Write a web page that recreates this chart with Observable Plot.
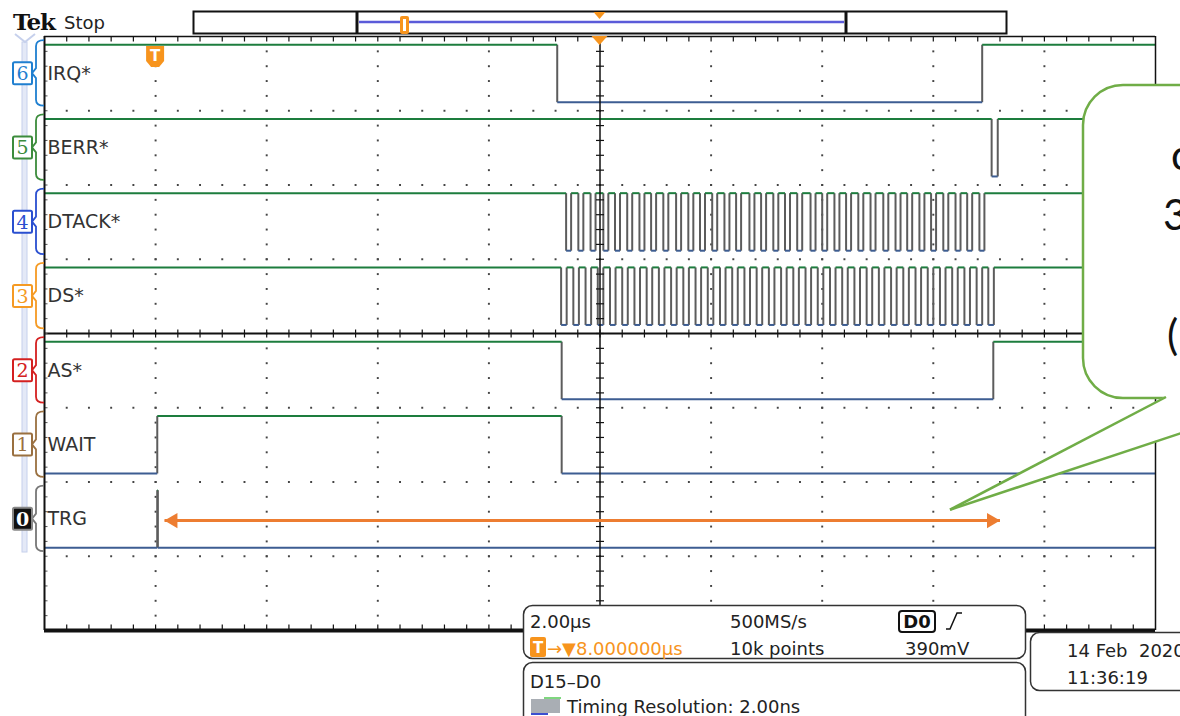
<!DOCTYPE html>
<html><head><meta charset="utf-8">
<script src="https://cdn.jsdelivr.net/npm/d3@7"></script>
<script src="https://cdn.jsdelivr.net/npm/@observablehq/plot@0.6"></script>
<style>
html,body{margin:0;padding:0;background:#fff;overflow:hidden;width:1180px;height:716px}
#wrap{position:relative;width:1180px;height:716px;overflow:hidden}
#wrap svg{position:absolute;left:0;top:0}
</style></head><body><div id="wrap"></div>
<script>
// ---- data (time in µs relative to trigger, 2 µs/div) ----
const channels   = ["IRQ*", "BERR*", "DTACK*", "DS*", "AS*", "WAIT", "TRG"];
const channelNum = ["6", "5", "4", "3", "2", "1", "0"];
const channelCol = ["#1f7fd0", "#3c8c3c", "#2a4fd0", "#f59a23", "#d42020", "#9a7040", "#111"];
const startHigh  = [true, true, true, true, true, false, false];
const irqEdges   = [7.23, 14.88];
const berrEdges  = [15.05, 15.16];
const dtackLow   = [[7.39,7.48],[7.61,7.70],[7.83,7.92],[8.06,8.15],[8.27,8.36],[8.49,8.58],[8.71,8.80],[8.92,9.01],[9.14,9.23],[9.37,9.46],[9.59,9.68],[9.80,9.89],[10.02,10.11],[10.24,10.33],[10.45,10.54],[10.69,10.78],[10.90,10.99],[11.12,11.21],[11.33,11.42],[11.55,11.64],[11.79,11.88],[12.00,12.09],[12.22,12.31],[12.43,12.52],[12.65,12.74],[12.87,12.96],[13.10,13.19],[13.32,13.41],[13.53,13.62],[13.75,13.84],[13.96,14.05],[14.18,14.27],[14.40,14.49],[14.61,14.70],[14.83,14.92]];
const dsLow      = [[7.30,7.40],[7.52,7.62],[7.74,7.84],[7.96,8.06],[8.18,8.28],[8.40,8.50],[8.62,8.72],[8.84,8.94],[9.06,9.16],[9.28,9.38],[9.50,9.60],[9.72,9.82],[9.94,10.04],[10.16,10.26],[10.38,10.48],[10.60,10.70],[10.82,10.92],[11.04,11.14],[11.26,11.36],[11.48,11.58],[11.70,11.80],[11.92,12.02],[12.14,12.24],[12.36,12.46],[12.58,12.68],[12.80,12.90],[13.02,13.12],[13.24,13.34],[13.46,13.56],[13.68,13.78],[13.90,14.00],[14.12,14.22],[14.34,14.44],[14.56,14.66],[14.78,14.88],[14.99,15.09]];
const asEdges    = [7.31, 15.08];
const waitEdges  = [0.03, 7.31];
const trgEdges   = [0.03, 0.04];
const trgArrow   = {t1: 0.16, t2: 15.2, y: 1.48};
const calloutTip = {t: 14.31, y: 1.62};
const infoRow1   = ["2.00µs", "500MS/s", "D0"];
const infoRow2   = ["8.000000µs", "10k points", "390mV"];
const infoBox2   = ["D15–D0", "Timing Resolution: 2.00ns"];
const dateText   = ["14 Feb\u00A0\u00A02020", "11:36:19"];
const calloutLines = ["ca. 15 µs", "35 Buszyklen", "", "( Block-Transfer )"];

const allEdges = [irqEdges, berrEdges, dtackLow.flat(), dsLow.flat(), asEdges, waitEdges, trgEdges];

// ---- build segments ----
const H = [], V = [];
allEdges.forEach((edges, row) => {
  const hi = 8 - row - 0.11, lo = 8 - row - 0.885;
  let level = startHigh[row], prev = -2;
  for (const e of edges) {
    H.push({x1: prev, x2: e, y: level ? hi : lo, high: level});
    V.push({x: e, y1: lo, y2: hi});
    level = !level; prev = e;
  }
  H.push({x1: prev, x2: 18, y: level ? hi : lo, high: level});
});

// graticule helpers
const gridV = [], gridH = [], centerHT = [], centerVT = [], topT = [], botT = [], leftT = [];
for (let i = 1; i < 10; i++) { if (i === 5) continue; for (let k = 1; k < 40; k++) gridV.push({x: -2 + 2 * i, y: k * 0.2}); }
for (const j of [1, 2, 3, 5, 6, 7]) for (let m = 1; m < 50; m++) gridH.push({x: -2 + m * 0.4, y: j});
for (let k = 1; k < 40; k++) { centerHT.push({x: 8, y: k * 0.2}); leftT.push({x: -2, y: k * 0.2}); }
for (let m = 1; m < 50; m++) { centerVT.push({x: -2 + m * 0.4, y: 4}); topT.push({x: -2 + m * 0.4, y: 8}); botT.push({x: -2 + m * 0.4, y: 0}); }
const sym = (x1, y1, x2, y2) => ({draw(c) { c.moveTo(x1, y1); c.lineTo(x2, y2); }});

const chart = Plot.plot({
  width: 1180, height: 716,
  marginLeft: 44, marginRight: 25, marginTop: 36, marginBottom: 86,
  x: {domain: [-2, 18], axis: null},
  y: {domain: [0, 8], axis: null},
  style: {background: "transparent", overflow: "visible"},
  marks: [
    Plot.dot(gridV, {x: "x", y: "y", symbol: "square", r: 1.1, fill: "#444", stroke: null}),
    Plot.dot(gridH, {x: "x", y: "y", symbol: "square", r: 1.1, fill: "#444", stroke: null}),
    Plot.link(V, {x1: "x", x2: "x", y1: "y1", y2: "y2", stroke: "#5c5c5c", strokeWidth: 2}),
    Plot.link(H, {x1: "x1", x2: "x2", y1: "y", y2: "y", stroke: d => d.high ? "#1d7d3e" : "#3d5d92", strokeWidth: 2}),
    Plot.ruleX([8], {stroke: "#111", strokeWidth: 1.5}),
    Plot.ruleY([4], {stroke: "#111", strokeWidth: 2}),
    Plot.dot(centerHT, {x: "x", y: "y", symbol: sym(-4, 0, 4, 0), r: 3, stroke: "#111", strokeWidth: 1.2, fill: "none"}),
    Plot.dot(centerVT, {x: "x", y: "y", symbol: sym(0, -4, 0, 4), r: 3, stroke: "#111", strokeWidth: 1.2, fill: "none"}),
    Plot.dot(topT, {x: "x", y: "y", symbol: sym(0, 0, 0, 5), r: 3, stroke: "#111", strokeWidth: 1.2, fill: "none"}),
    Plot.dot(botT, {x: "x", y: "y", symbol: sym(0, 0, 0, -6), r: 3, stroke: "#111", strokeWidth: 1.2, fill: "none"}),
    Plot.dot(leftT, {x: "x", y: "y", symbol: sym(0, 0, 3, 0), r: 3, stroke: "#555", strokeWidth: 1, fill: "none"}),
    Plot.ruleX([-2], {stroke: "#111", strokeWidth: 2}),
    Plot.ruleX([18], {stroke: "#111", strokeWidth: 1.5}),
    Plot.ruleY([8], {stroke: "#111", strokeWidth: 1.5}),
    Plot.ruleY([0], {stroke: "#111", strokeWidth: 4}),
    Plot.text(channels, {x: () => -2, y: (d, i) => 8 - i - 0.5, text: d => d, textAnchor: "start", dx: 3, fontSize: 19, fontFamily: "DejaVu Sans", fill: "#333"}),
    Plot.link([trgArrow], {x1: "t1", x2: "t2", y1: "y", y2: "y", stroke: "#ed7d31", strokeWidth: 3}),
    Plot.dot([trgArrow], {x: "t1", y: "y", symbol: "triangle", r: 5.6, rotate: -90, dx: 8.6, fill: "#ed7d31", stroke: null}),
    Plot.dot([trgArrow], {x: "t2", y: "y", symbol: "triangle", r: 5.6, rotate: 90, dx: -8.6, fill: "#ed7d31", stroke: null})
  ]
});
document.getElementById("wrap").append(chart);

// ---- overlay annotations ----
const sx = chart.scale("x"), sy = chart.scale("y");
const X = v => sx.apply(v), Y = v => sy.apply(v);
const ov = d3.create("svg").attr("width", 1180).attr("height", 716).attr("viewBox", "0 0 1180 716")
  .style("font-family", "'DejaVu Sans', sans-serif");
const orange = "#f7941d";

// Tek Stop
ov.append("text").attr("x", 13).attr("y", 30).attr("font-family", "'DejaVu Serif', serif").attr("font-weight", "bold").attr("font-size", 23).attr("letter-spacing", -1).attr("fill", "#111").text("Tek");
ov.append("text").attr("x", 64).attr("y", 29).attr("font-size", 18).attr("fill", "#222").text("Stop");

// top record bar
ov.append("rect").attr("x", 193.5).attr("y", 11.5).attr("width", 813).attr("height", 22).attr("fill", "#fff").attr("stroke", "#111").attr("stroke-width", 2);
ov.append("line").attr("x1", 359).attr("x2", 844).attr("y1", 22).attr("y2", 22).attr("stroke", "#5b5bd9").attr("stroke-width", 2.5);
for (const bx of [357, 846]) ov.append("line").attr("x1", bx).attr("x2", bx).attr("y1", 12).attr("y2", 34).attr("stroke", "#111").attr("stroke-width", 3);
ov.append("rect").attr("x", 400).attr("y", 16).attr("width", 9).attr("height", 18).attr("rx", 2).attr("fill", orange);
ov.append("rect").attr("x", 403).attr("y", 19).attr("width", 3).attr("height", 12).attr("fill", "#fff");
ov.append("polygon").attr("points", `${X(8) - 6},12 ${X(8) + 6},12 ${X(8)},19`).attr("fill", orange);
// trigger position triangle on graticule
ov.append("polygon").attr("points", `${X(8) - 8},36 ${X(8) + 8},36 ${X(8)},45`).attr("fill", orange);
// trigger T marker
const tx = X(0);
ov.append("path").attr("d", `M${tx - 9},46 h18 v15 l-5,6 h-8 l-5,-6 Z`).attr("fill", orange);
ov.append("text").attr("x", tx).attr("y", 61).attr("text-anchor", "middle").attr("font-weight", "bold").attr("font-size", 15).attr("fill", "#fff").text("T");

// left channel rail
ov.append("rect").attr("x", 22).attr("y", 42).attr("width", 5).attr("height", 510).attr("fill", "#e4e9f7").attr("stroke", "#c6d0ec");
ov.append("path").attr("d", "M15,34 L25,42 L35,34").attr("fill", "none").attr("stroke", "#c6d0ec").attr("stroke-width", 2);
channels.forEach((c, i) => {
  const top = Y(8 - i - 0.11) - 4, bot = Y(8 - i - 0.885) + 4, mid = Y(8 - i - 0.5);
  const col = channelCol[i];
  ov.append("path").attr("d", `M44,${top} Q36,${top} 36,${top + 6} L36,${mid - 5} L32,${mid} L36,${mid + 5} L36,${bot - 6} Q36,${bot} 44,${bot}`)
    .attr("fill", "none").attr("stroke", i === 6 ? "#777" : col).attr("stroke-width", 1.8);
  ov.append("rect").attr("x", 13).attr("y", mid - 11).attr("width", 19).attr("height", 22).attr("rx", 1.5)
    .attr("fill", i === 6 ? "#111" : "#fff").attr("stroke", i === 6 ? "#888" : col).attr("stroke-width", 2);
  ov.append("text").attr("x", 22.5).attr("y", mid + 7).attr("text-anchor", "middle").attr("font-family", "'DejaVu Serif', serif")
    .attr("font-size", 19).attr("font-weight", i === 6 ? "bold" : "normal").attr("fill", i === 6 ? "#fff" : col).text(channelNum[i]);
});

// callout
const tipX = X(calloutTip.t), tipY = Y(calloutTip.y);
const green = "#70ad47";
ov.append("rect").attr("x", 1083).attr("y", 85).attr("width", 400).attr("height", 313).attr("rx", 40).attr("fill", "#fff").attr("stroke", green).attr("stroke-width", 2.5);
ov.append("polygon").attr("points", `1166,396 ${tipX},${tipY} 1290,396`).attr("fill", "#fff");
ov.append("line").attr("x1", 1166).attr("y1", 397).attr("x2", tipX).attr("y2", tipY).attr("stroke", green).attr("stroke-width", 2.5);
ov.append("line").attr("x1", 1290).attr("y1", 397).attr("x2", tipX).attr("y2", tipY).attr("stroke", green).attr("stroke-width", 2.5);
const cl = [[1171, 170], [1163, 230], [1165, 290], [1167, 350]];
calloutLines.forEach((t, i) => {
  ov.append("text").attr("x", cl[i][0]).attr("y", cl[i][1]).attr("font-family", "Lato, 'Open Sans', sans-serif").attr("font-size", 42).attr("fill", "#111").text(t);
});

// info boxes
const box = (x, y, w, h) => ov.append("rect").attr("x", x).attr("y", y).attr("width", w).attr("height", h).attr("rx", 9).attr("fill", "#fff").attr("stroke", "#333").attr("stroke-width", 1.5);
box(523.5, 605.5, 502, 53);
box(523.5, 662.5, 502, 70);
box(1030.5, 632.5, 170, 58);
const txt = (x, y, s, col = "#222", extra = {}) => {
  const t = ov.append("text").attr("x", x).attr("y", y).attr("font-size", 18).attr("fill", col).text(s);
  for (const k in extra) t.attr(k, extra[k]);
  return t;
};
txt(530, 628, infoRow1[0]);
txt(730, 628, infoRow1[1]);
ov.append("rect").attr("x", 899).attr("y", 611).attr("width", 36).attr("height", 21).attr("rx", 3).attr("fill", "#fff").attr("stroke", "#111").attr("stroke-width", 2);
txt(917, 628, infoRow1[2], "#111", {"text-anchor": "middle", "font-weight": "bold"});
ov.append("path").attr("d", "M946,629 L950,629 L957,613 L962,613").attr("fill", "none").attr("stroke", "#111").attr("stroke-width", 1.5);
ov.append("rect").attr("x", 530).attr("y", 637).attr("width", 16).attr("height", 20).attr("rx", 2).attr("fill", orange);
txt(538, 653, "T", "#fff", {"text-anchor": "middle", "font-weight": "bold", "font-size": 15});
txt(547, 655, "→▼" + infoRow2[0], orange);
txt(730, 655, infoRow2[1]);
txt(905, 655, infoRow2[2]);
txt(530, 688, infoBox2[0]);
ov.append("rect").attr("x", 531).attr("y", 699).attr("width", 29).attr("height", 14).attr("fill", "#a9aeb4");
ov.append("line").attr("x1", 544).attr("x2", 561).attr("y1", 698).attr("y2", 698).attr("stroke", "#7fd67f").attr("stroke-width", 2);
ov.append("line").attr("x1", 531).attr("x2", 548).attr("y1", 714).attr("y2", 714).attr("stroke", "#3b4fd0").attr("stroke-width", 2);
txt(567, 713, infoBox2[1]);
txt(1067, 657, dateText[0]);
txt(1067, 684, dateText[1]);

document.getElementById("wrap").append(ov.node());
</script></body></html>
